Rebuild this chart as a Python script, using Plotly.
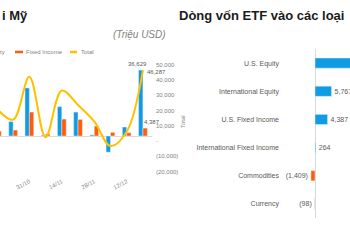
import plotly.graph_objects as go

# ---------------- data ----------------
weeks = ["17/10", "24/10", "31/10", "7/11", "14/11", "21/11", "28/11", "5/12", "12/12", "19/12"]
equity = [15000, 8000, 26700, 500, 16300, 13300, 600, -9000, 5000, 36629]
fixed_income = [2700, 3300, 13300, 1200, 9400, 9200, 5500, 2000, 1800, 4387]
total = [21000, 14000, 42000, 2500, 33000, 23500, 12800, -3300, 6000, 46287]
week_ticks = ["31/10", "14/11", "28/11", "12/12"]
total_tickvals = [-20000, -10000, 0, 10000, 20000, 30000, 40000, 50000]
total_ticktext = ["(20,000)", "(10,000)", "-", "10,000", "20,000", "30,000", "40,000", "50,000"]

assets = ["U.S. Equity", "International Equity", "U.S. Fixed Income",
          "International Fixed Income", "Commodities", "Currency"]
flows = [36629, 5767, 4387, 264, -1409, -98]

BLUE = "#109CE3"
ORANGE = "#FF5B0A"
GOLD = "#FFC000"
W, H = 350, 250


def px(x):
    return x / W


def py(y):
    return 1 - y / H


def acct(v):
    return f"({abs(v):,})" if v < 0 else f"{v:,}"


fig = go.Figure()

# left chart
fig.add_trace(go.Bar(x=weeks, y=equity, marker_color=BLUE, name="Equity",
                     xaxis="x", yaxis="y", showlegend=False))
fig.add_trace(go.Bar(x=weeks, y=fixed_income, marker_color=ORANGE, name="Fixed Income",
                     xaxis="x", yaxis="y", showlegend=False))
fig.add_trace(go.Scatter(x=weeks, y=total, mode="lines", name="Total",
                         line=dict(color=GOLD, width=2, shape="spline", smoothing=1.0),
                         xaxis="x", yaxis="y2", showlegend=False, cliponaxis=False))

# right chart
fig.add_trace(go.Bar(y=assets, x=flows, orientation="h",
                     marker_color=[BLUE if v >= 0 else ORANGE for v in flows],
                     width=0.36, text=[acct(v) for v in flows], textposition="outside",
                     textfont=dict(size=7, color="#595959"), cliponaxis=False,
                     xaxis="x3", yaxis="y3", showlegend=False))

axis_font = dict(family="Liberation Sans, Arial, sans-serif", size=6, color="#7f7f7f")

fig.update_layout(
    width=W, height=H,
    margin=dict(l=0, r=0, t=0, b=0),
    paper_bgcolor="white", plot_bgcolor="rgba(0,0,0,0)",
    font=dict(family="Liberation Sans, Arial, sans-serif"),
    barmode="group", bargap=0.46, bargroupgap=0,
    xaxis=dict(domain=[0, px(152)], range=[0.19, 9.56], type="category",
               tickmode="array", tickvals=week_ticks, ticktext=week_ticks,
               tickangle=-28, tickfont=axis_font, showgrid=False, showline=False,
               ticks="", zeroline=False),
    yaxis=dict(domain=[py(176), py(60)], range=[-22222, 42222], showticklabels=False,
               showgrid=False, zeroline=True, zerolinecolor="#d9d9d9", zerolinewidth=1,
               ticks=""),
    yaxis2=dict(overlaying="y", side="right", anchor="x", range=[-22880, 52940],
                tickmode="array", tickvals=total_tickvals, ticktext=total_ticktext,
                tickfont=axis_font, showgrid=False, zeroline=False, ticks="",
                ticklabelstandoff=3),
    xaxis3=dict(domain=[px(282), 1], anchor="y3", range=[-11500, 12200],
                showticklabels=False, showgrid=False, zeroline=True,
                zerolinecolor="#d9d9d9", zerolinewidth=1, ticks=""),
    yaxis3=dict(domain=[py(218), py(49)], anchor="x3", autorange="reversed",
                type="category", tickfont=dict(family="Liberation Sans, Arial, sans-serif",
                                               size=7, color="#595959"),
                showgrid=False, ticks="", ticklabelstandoff=2),
)

ann = []
# titles
ann.append(dict(text="<b>i Mỹ</b>", x=0, y=py(15), xref="paper", yref="paper",
                xanchor="left", yanchor="middle", showarrow=False,
                font=dict(size=13, color="#1a1a1a")))
ann.append(dict(text="<b>Dòng vốn ETF vào các loại</b>", x=px(177), y=py(15),
                xref="paper", yref="paper", xanchor="left", yanchor="middle",
                showarrow=False, font=dict(size=13, color="#1a1a1a")))
ann.append(dict(text="<i>(Triệu USD)</i>", x=px(168), y=py(34), xref="paper", yref="paper",
                xanchor="right", yanchor="middle", showarrow=False,
                font=dict(size=10, color="#7f7f7f")))
# legend
leg_font = dict(size=6, color="#7f7f7f")
ann.append(dict(text="Equity", x=px(7), y=py(52), xref="paper", yref="paper",
                xanchor="right", yanchor="middle", showarrow=False, font=leg_font))
ann.append(dict(text="Fixed Income", x=px(24), y=py(52), xref="paper", yref="paper",
                xanchor="left", yanchor="middle", showarrow=False, font=leg_font))
ann.append(dict(text="Total", x=px(79), y=py(52), xref="paper", yref="paper",
                xanchor="left", yanchor="middle", showarrow=False, font=leg_font))
# y2 title
ann.append(dict(text="Total", x=px(183), y=py(122), xref="paper", yref="paper",
                textangle=-90, xanchor="center", yanchor="middle", showarrow=False,
                font=dict(size=6, color="#7f7f7f")))
# data labels
lab_font = dict(size=6, color="#595959")
ann.append(dict(text=acct(equity[-1]), x=weeks[-1], y=equity[-1], xref="x", yref="y",
                xanchor="center", yanchor="bottom", xshift=-5, yshift=1,
                showarrow=False, font=lab_font))
ann.append(dict(text=acct(fixed_income[-1]), x=weeks[-1], y=fixed_income[-1], xref="x",
                yref="y", xanchor="left", yanchor="middle", xshift=-1, yshift=6,
                showarrow=False, font=lab_font))
ann.append(dict(text=acct(total[-1]), x=weeks[-1], y=total[-1], xref="x", yref="y2",
                xanchor="left", yanchor="middle", xshift=2, yshift=-2,
                showarrow=False, font=lab_font))
fig.update_layout(annotations=ann)

fig.update_layout(shapes=[
    dict(type="line", xref="paper", yref="paper", x0=px(15), x1=px(23), y0=py(52), y1=py(52),
         line=dict(color=ORANGE, width=2.5)),
    dict(type="line", xref="paper", yref="paper", x0=px(70), x1=px(77), y0=py(52), y1=py(52),
         line=dict(color=GOLD, width=2.5)),
])

fig.write_html("out.html")
